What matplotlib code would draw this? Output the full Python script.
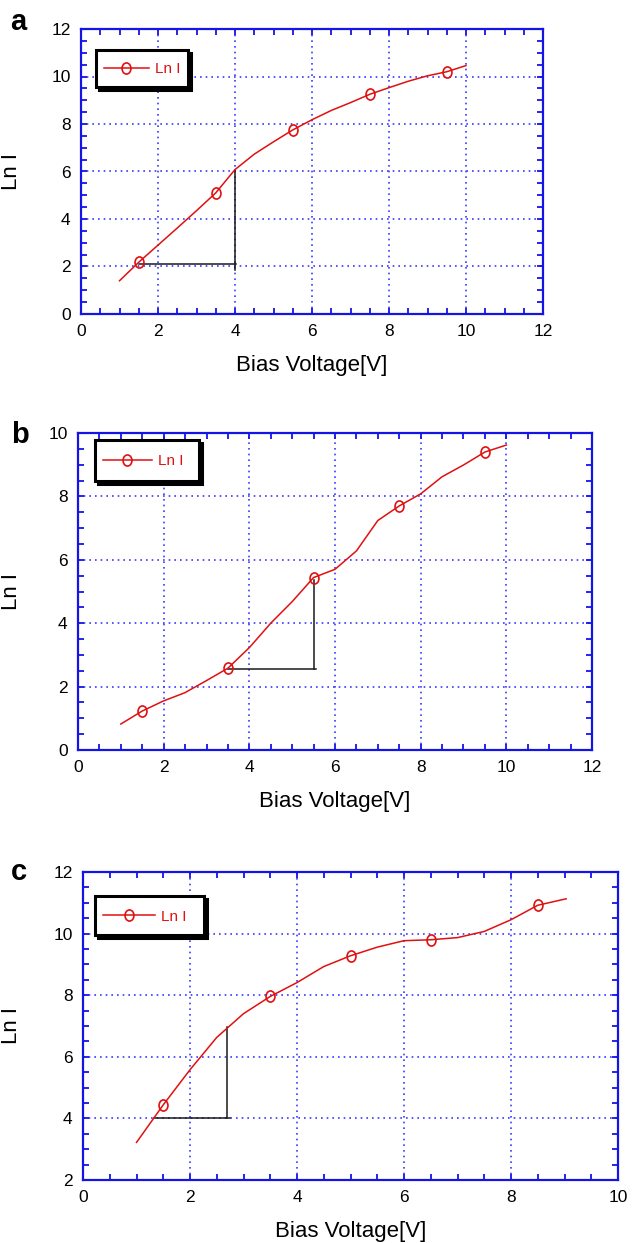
import matplotlib
matplotlib.use("Agg")
import matplotlib.pyplot as plt
import numpy as np
from matplotlib.ticker import MultipleLocator
from matplotlib.path import Path
from matplotlib.transforms import Affine2D
from matplotlib.legend_handler import HandlerLine2D
from matplotlib.lines import Line2D

plt.rcParams['font.family'] = ['Liberation Sans', 'DejaVu Sans']

# ---------------- data ----------------
volt_a = [1.0, 1.5, 2.0, 2.5, 3.0, 3.5, 4.0, 4.5, 5.0, 5.5, 6.0, 6.5, 7.0, 7.5, 8.0, 8.5, 9.0, 9.5, 10.0]
lnI_a = [1.40, 2.18, 2.90, 3.62, 4.35, 5.10, 6.08, 6.73, 7.25, 7.75, 8.18, 8.57, 8.90, 9.25, 9.53, 9.80, 10.03, 10.20, 10.46]
marks_a = [1, 5, 9, 13, 17]
tri_a_h_x = [1.5, 4.02]
tri_a_h_y = [2.12, 2.12]
tri_a_v_x = [4.0, 4.0]
tri_a_v_y = [1.85, 6.08]

volt_b = [1.0, 1.5, 2.0, 2.5, 3.0, 3.5, 4.0, 4.5, 5.0, 5.5, 6.0, 6.5, 7.0, 7.5, 8.0, 8.5, 9.0, 9.5, 10.0]
lnI_b = [0.82, 1.23, 1.55, 1.81, 2.19, 2.58, 3.23, 4.00, 4.68, 5.44, 5.70, 6.28, 7.24, 7.70, 8.08, 8.62, 8.99, 9.40, 9.62]
marks_b = [1, 5, 9, 13, 17]
tri_b_h_x = [3.5, 5.55]
tri_b_h_y = [2.57, 2.57]
tri_b_v_x = [5.5, 5.5]
tri_b_v_y = [2.57, 5.37]

volt_c = [1.0, 1.5, 2.0, 2.5, 3.0, 3.5, 4.0, 4.5, 5.0, 5.5, 6.0, 6.5, 7.0, 7.5, 8.0, 8.5, 9.03]
lnI_c = [3.22, 4.44, 5.58, 6.63, 7.40, 7.96, 8.41, 8.93, 9.28, 9.56, 9.77, 9.80, 9.87, 10.07, 10.45, 10.92, 11.13]
marks_c = [1, 5, 8, 11, 15]
tri_c_h_x = [1.33, 2.75]
tri_c_h_y = [4.0, 4.0]
tri_c_v_x = [2.70, 2.70]
tri_c_v_y = [4.0, 6.98]

xlims = [(0, 12), (0, 12), (0, 10)]
ylims = [(0, 12), (0, 10), (2, 12)]
panel_letters = ['a', 'b', 'c']
series_label = 'Ln I'
xlabel = 'Bias Voltage[V]'
ylabel = 'Ln I'

# ---------------- layout ----------------
W, H = 632, 1243
fig = plt.figure(figsize=(W / 100, H / 100), dpi=100)

def px_rect(x0, x1, y0, y1):
    return [x0 / W, 1 - y1 / H, (x1 - x0) / W, (y1 - y0) / H]

rects = [px_rect(81, 543, 29, 314), px_rect(78, 592, 433, 750), px_rect(83, 618, 872, 1180)]
# legend boxes (px): x0, x1, y0, y1
leg_px = [(96, 188, 50, 91), (95, 199, 440, 486), (95, 204, 896, 939)]
leg_handlelen = [2.95, 3.25, 3.4]
leg_handleheight = [1.8, 2.2, 2.05]
letter_pos = [(10, 30), (11, 443), (11, 880)]
ylab_x = [22, 22, 22]

BLUE = '#1414e6'
GRID = '#3a3aff'
RED = '#e01010'

# taller-than-wide open circle marker
ellipse = Path.unit_circle().transformed(Affine2D().scale(0.8, 1.0))


class CenteredLineHandler(HandlerLine2D):
    """Keep the legend line at the text's mid-height when handleheight is enlarged."""
    def __init__(self, hh, **kw):
        super().__init__(**kw)
        self.hh = hh

    def create_artists(self, legend, orig_handle, xdescent, ydescent, width, height, fontsize, trans):
        arts = super().create_artists(legend, orig_handle, xdescent, ydescent, width, height,
                                      fontsize, trans)
        dy = 0.15 * (self.hh - 0.7) * fontsize
        for a in arts:
            a.set_ydata(np.asarray(a.get_ydata(), dtype=float) - dy)
        return arts


datasets = [
    (volt_a, lnI_a, marks_a, (tri_a_h_x, tri_a_h_y), (tri_a_v_x, tri_a_v_y)),
    (volt_b, lnI_b, marks_b, (tri_b_h_x, tri_b_h_y), (tri_b_v_x, tri_b_v_y)),
    (volt_c, lnI_c, marks_c, (tri_c_h_x, tri_c_h_y), (tri_c_v_x, tri_c_v_y)),
]

for i, (vx, vy, mk, th, tv) in enumerate(datasets):
    ax = fig.add_axes(rects[i])
    ax.set_xlim(*xlims[i])
    ax.set_ylim(*ylims[i])
    ax.xaxis.set_major_locator(MultipleLocator(2))
    ax.yaxis.set_major_locator(MultipleLocator(2))
    ax.xaxis.set_minor_locator(MultipleLocator(0.5))
    ax.yaxis.set_minor_locator(MultipleLocator(0.5))
    ax.grid(True, which='major', color=GRID, linestyle=(0, (1, 2.4)), linewidth=1.2)
    ax.set_axisbelow(True)
    for sp in ax.spines.values():
        sp.set_color(BLUE)
        sp.set_linewidth(1.6)
    ax.tick_params(which='both', direction='in', top=True, right=True,
                   color=BLUE, width=1.3, labelsize=12.5, labelcolor='black')
    ax.tick_params(which='major', length=4.5)
    ax.tick_params(which='minor', length=4.0)
    ax.tick_params(axis='y', which='major', pad=7.5)
    ax.tick_params(axis='x', which='major', pad=7.5)

    ax.plot(th[0], th[1], color='#1a1a1a', lw=1.1, zorder=3)
    ax.plot(tv[0], tv[1], color='#1a1a1a', lw=1.1, zorder=3)
    ax.plot(vx, vy, color=RED, lw=1.1, marker=ellipse, markevery=mk, markersize=8,
            mfc='none', mec=RED, mew=1.2, label=series_label, zorder=4)

    ax.set_xlabel(xlabel, fontsize=16)
    ax.set_ylabel(ylabel, fontsize=16)
    x0, x1 = rects[i][0] * W, (rects[i][0] + rects[i][2]) * W
    y0, y1 = (1 - rects[i][1] - rects[i][3]) * H, (1 - rects[i][1]) * H
    ax.yaxis.set_label_coords((ylab_x[i] - x0) / (x1 - x0), 0.5)
    ax.xaxis.set_label_coords(0.5, -(0.145 * 285) / (y1 - y0))

    lx0, lx1, ly0, ly1 = leg_px[i]
    bx = (lx0 - x0) / (x1 - x0)
    by = 1 - (ly0 - y0) / (y1 - y0)
    bw = (lx1 - lx0) / (x1 - x0)
    leg = ax.legend(loc='upper left', bbox_to_anchor=(bx, by, bw, 0), mode='expand',
                    fontsize=11, handlelength=leg_handlelen[i], handleheight=leg_handleheight[i],
                    handletextpad=0.4, borderpad=0.5,
                    handler_map={Line2D: CenteredLineHandler(leg_handleheight[i])},
                    borderaxespad=0, fancybox=False, frameon=True, framealpha=1,
                    shadow={'color': 'black', 'alpha': 1})
    leg.get_frame().set_edgecolor('black')
    leg.get_frame().set_linewidth(2.2)
    for t in leg.get_texts():
        t.set_color(RED)

    lx, ly = letter_pos[i]
    fig.text(lx / W, 1 - ly / H, panel_letters[i], fontsize=21, fontweight='bold',
             ha='left', va='baseline')

fig.savefig('out.png', dpi=100)
